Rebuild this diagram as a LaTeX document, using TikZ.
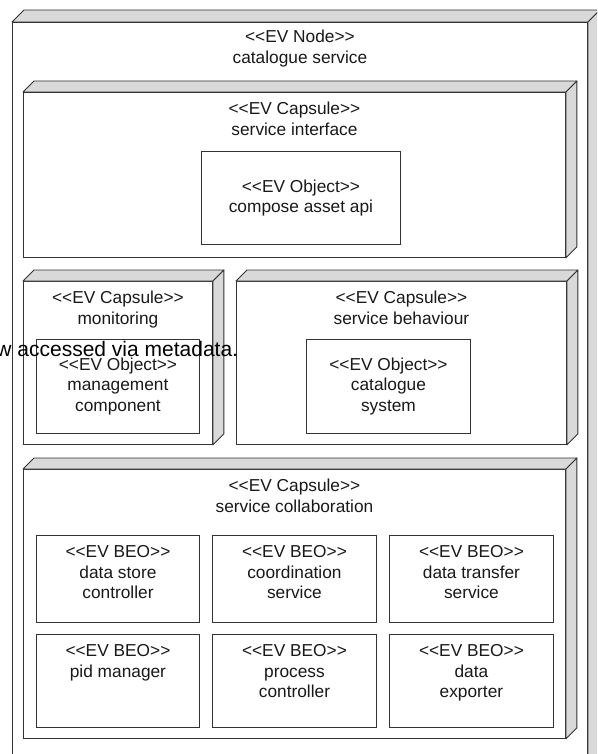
\documentclass[tikz,border=0pt]{standalone}
\usepackage{fontspec}
\setmainfont{Liberation Sans}[Ligatures=TeXOff]
\usetikzlibrary{
  calc, % For the shifted corners of the faces
  positioning
}

\begin{document}
\begin{tikzpicture}[
      x=1pt, y=-1pt, % Pixel grid, y runs downwards
      line width=0.9pt,
      draw=black!80,
      front/.style={draw=black!80, fill=white, inner sep=0pt, anchor=north west}, % Front face of a box
      face/.style={draw=black!80, fill=black!15, line join=round}, % Top and side faces
      lbl/.style={align=center, inner sep=0pt, text=black!90,
        font=\fontsize{17.3}{20.5}\selectfont}, % Stereotype and name
      stray/.style={inner sep=0pt, text=black, font=\fontsize{21}{24}\selectfont},
    ]

    \def\dep{11}
    % Top and side face of a 3D node
    \def\boxfaces#1{%
      \draw[face] (#1.north west) -- ++(\dep,-\dep)
        -- ($(#1.north east)+(\dep,-\dep)$) -- (#1.north east) -- cycle;
      \draw[face] (#1.north east) -- ++(\dep,-\dep)
        -- ($(#1.south east)+(\dep,-\dep)$) -- (#1.south east) -- cycle;
    }

    \path[use as bounding box, clip] (0,0) rectangle (597,754);

    % EV Node
    \node[front, minimum width=575, minimum height=760] (evnode) at (12,22) {};
    \def\dep{12}
    \boxfaces{evnode}
    \def\dep{11}
    \node[lbl, anchor=north] (evnodelbl) at ($(evnode.north)+(0,8)$)
      {<<EV Node>>\\catalogue service};

    % Capsule: service interface
    \node[front, minimum width=542, minimum height=165] (iface) at (23,92) {};
    \boxfaces{iface}
    \node[lbl, anchor=north] (ifacelbl) at ($(iface.north)+(0,10)$)
      {<<EV Capsule>>\\service interface};
    \node[front, minimum width=199, minimum height=93] (compose) at (201,151) {};
    \node[lbl] (composelbl) at (compose.center) {<<EV Object>>\\compose asset api};

    % Capsule: monitoring
    \node[front, minimum width=189, minimum height=163] (monitor) at (23,281) {};
    \boxfaces{monitor}
    \node[lbl, anchor=north] (monitorlbl) at ($(monitor.north)+(0,10)$)
      {<<EV Capsule>>\\monitoring};
    \node[front, minimum width=163, minimum height=94] (mgmt) at (36,339) {};
    \node[lbl] (mgmtlbl) at (mgmt.center) {<<EV Object>>\\management\\component};

    % Capsule: service behaviour
    \node[front, minimum width=330, minimum height=163] (behav) at (236,281) {};
    \boxfaces{behav}
    \node[lbl, anchor=north] (behavlbl) at ($(behav.north)+(0,10)$)
      {<<EV Capsule>>\\service behaviour};
    \node[front, minimum width=164, minimum height=94] (catsys) at (306,339) {};
    \node[lbl] (catsyslbl) at (catsys.center) {<<EV Object>>\\catalogue\\system};

    % Capsule: service collaboration
    \node[front, minimum width=542, minimum height=269] (collab) at (23,469) {};
    \boxfaces{collab}
    \node[lbl, anchor=north] (collablbl) at ($(collab.north)+(0,10)$)
      {<<EV Capsule>>\\service collaboration};

    % BEOs, first row
    \node[front, minimum width=163, minimum height=87] (store) at (36,535) {};
    \node[lbl, anchor=north] (storelbl) at ($(store.north)+(0,10)$)
      {<<EV BEO>>\\data store\\controller};
    \node[front, minimum width=164, minimum height=87] (coord) at (212,535) {};
    \node[lbl, anchor=north] (coordlbl) at ($(coord.north)+(0,10)$)
      {<<EV BEO>>\\coordination\\service};
    \node[front, minimum width=164, minimum height=87] (transfer) at (389,535) {};
    \node[lbl, anchor=north] (transferlbl) at ($(transfer.north)+(0,10)$)
      {<<EV BEO>>\\data transfer\\service};

    % BEOs, second row
    \node[front, minimum width=163, minimum height=93] (pid) at (36,634) {};
    \node[lbl, anchor=north] (pidlbl) at ($(pid.north)+(0,10)$)
      {<<EV BEO>>\\pid manager};
    \node[front, minimum width=164, minimum height=93] (process) at (212,634) {};
    \node[lbl, anchor=north] (processlbl) at ($(process.north)+(0,10)$)
      {<<EV BEO>>\\process\\controller};
    \node[front, minimum width=164, minimum height=93] (exporter) at (389,634) {};
    \node[lbl, anchor=north] (exporterlbl) at ($(exporter.north)+(0,10)$)
      {<<EV BEO>>\\data\\exporter};

    % Text running in from the left
    \node[stray, anchor=base west] (note) at (-4,356) {w accessed via metadata.};

  \end{tikzpicture}
\end{document}
